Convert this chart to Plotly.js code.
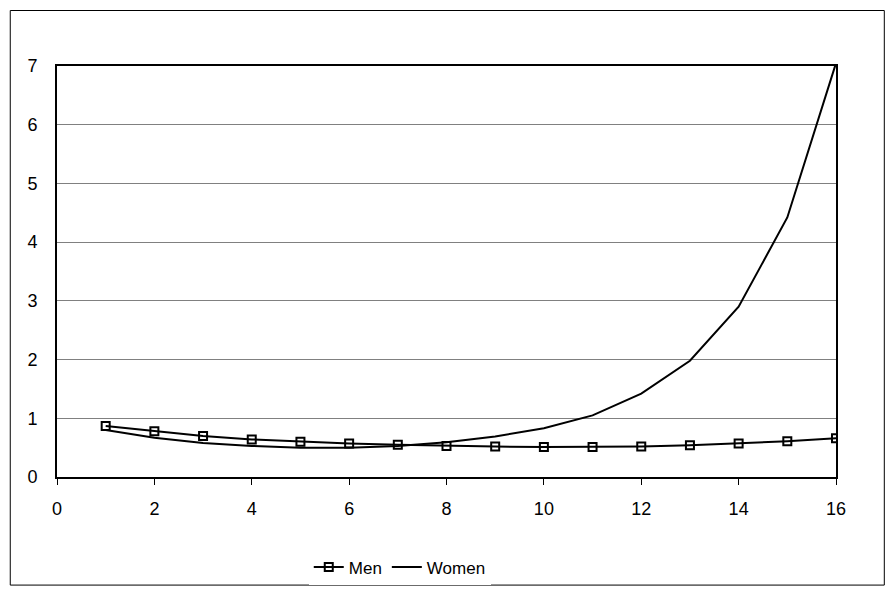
<!DOCTYPE html>
<html>
<head>
<script src="https://cdn.plot.ly/plotly-3.0.1.min.js"></script>
<style>body{margin:0;background:#fff}</style>
</head>
<body>
<div id="chart" style="width:895px;height:597px"></div>
<script>
var xValues = [1, 2, 3, 4, 5, 6, 7, 8, 9, 10, 11, 12, 13, 14, 15, 16];
var menValues = [0.87, 0.78, 0.70, 0.64, 0.60, 0.57, 0.55, 0.53, 0.52, 0.51, 0.51, 0.52, 0.54, 0.57, 0.61, 0.66];
var womenValues = [0.80, 0.67, 0.58, 0.53, 0.50, 0.50, 0.53, 0.59, 0.69, 0.83, 1.05, 1.42, 1.98, 2.90, 4.42, 7.05];

var font = {family: 'Liberation Sans, Arial, sans-serif', size: 17, color: '#000'};

var traces = [
    {x: xValues, y: menValues, name: 'Men', mode: 'lines+markers', type: 'scatter',
     line: {color: '#000', width: 2},
     marker: {symbol: 'square-open', size: 8, color: '#000', line: {width: 2}}},
    {x: xValues, y: womenValues, name: 'Women', mode: 'lines', type: 'scatter',
     line: {color: '#000', width: 2}}
];

var layout = {
    width: 895, height: 597,
    margin: {l: 57, r: 59, t: 66, b: 116},
    paper_bgcolor: '#fff', plot_bgcolor: '#fff',
    font: font,
    showlegend: true,
    legend: {orientation: 'h', x: 0.44, xanchor: 'center', y: -0.22, yanchor: 'middle', font: font,
             itemwidth: 30, tracegroupgap: 0},
    xaxis: {range: [0, 16], dtick: 2, showgrid: false, zeroline: false, showline: true, mirror: true,
            linecolor: '#000', linewidth: 2, ticks: 'outside', ticklen: 6, tickcolor: '#000',
            ticklabelstandoff: 8, tickfont: {size: 18}, fixedrange: true},
    yaxis: {range: [0, 7], dtick: 1, showgrid: true, gridcolor: '#808080', gridwidth: 1, zeroline: false,
            showline: true, mirror: true, linecolor: '#000', linewidth: 2, ticks: '',
            ticklabelstandoff: 14, tickfont: {size: 18}, fixedrange: true},
    shapes: [{type: 'rect', xref: 'paper', yref: 'paper', x0: -0.06, x1: 1.062, y0: -0.263, y1: 1.135,
              line: {color: '#000', width: 1}}]
};

Plotly.newPlot('chart', traces, layout, {displayModeBar: false});
</script>
</body>
</html>
